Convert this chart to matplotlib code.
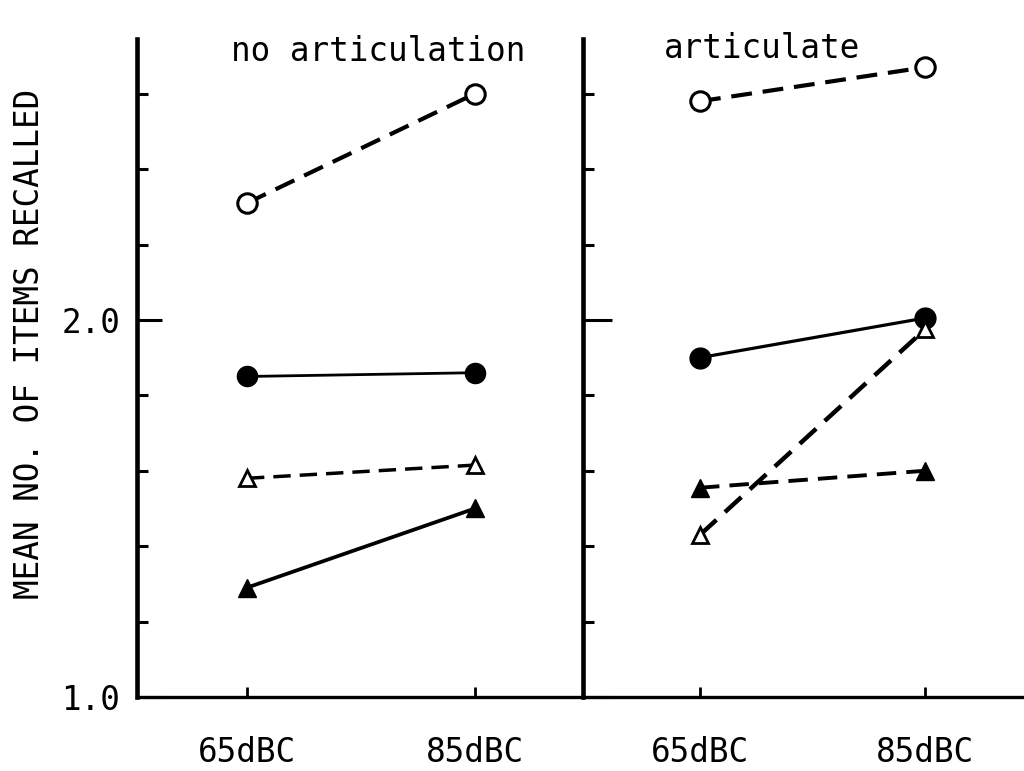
import matplotlib.pyplot as plt

plt.rcParams['font.family'] = ['DejaVu Sans Mono']

levels = ['65dBC', '85dBC']
panel_titles = ['no articulation', 'articulate']

# mean number of items recalled, one pair (65dBC, 85dBC) per condition
no_art_open_circle = [2.31, 2.60]
no_art_filled_circle = [1.85, 1.86]
no_art_open_triangle = [1.58, 1.615]
no_art_filled_triangle = [1.29, 1.50]

art_open_circle = [2.58, 2.67]
art_filled_circle = [1.90, 2.005]
art_open_triangle = [1.43, 1.975]
art_filled_triangle = [1.555, 1.60]

y_major = [1.0, 2.0]
y_minor = [1.2, 1.4, 1.6, 1.8, 2.2, 2.4, 2.6]

DASH = (0, (5, 2.6))

fig = plt.figure(figsize=(10.24, 7.71), dpi=100)
bottom = 74 / 771
height = 658 / 771
ax1 = fig.add_axes([137 / 1024, bottom, 446 / 1024, height])
ax2 = fig.add_axes([583 / 1024, bottom, 441 / 1024, height])

x = [0, 1]


def style_panel(ax, xlim, major_len):
    ax.set_xlim(*xlim)
    ax.set_ylim(1.0, 2.745)
    for side in ['top', 'right']:
        ax.spines[side].set_visible(False)
    ax.spines['left'].set_linewidth(3.3)
    ax.spines['bottom'].set_linewidth(2.4)
    ax.set_xticks(x)
    ax.set_xticklabels(levels, fontsize=23.5)
    ax.tick_params(axis='x', direction='in', length=7, width=2, pad=28)
    ax.set_yticks(y_major)
    ax.set_yticks(y_minor, minor=True)
    ax.tick_params(axis='y', which='major', direction='in', length=major_len, width=2.2, pad=12,
                   labelsize=23.5)
    ax.tick_params(axis='y', which='minor', direction='in', length=8, width=2.2)


# left panel
style_panel(ax1, (-0.4825, 1.4737), 18)
ax1.set_yticklabels(['1.0', '2.0'])
ax1.set_ylabel('MEAN NO. OF ITEMS RECALLED', fontsize=23.5)
ax1.yaxis.set_label_coords(-0.205, 0.536)

ax1.plot(x, no_art_open_circle, color='black', lw=3.0, ls=DASH, marker='o', ms=14,
         mfc='white', mec='black', mew=2.2)
ax1.plot(x, no_art_filled_circle, color='black', lw=2.0, marker='o', ms=14.5)
ax1.plot(x, no_art_open_triangle, color='black', lw=2.5, ls=DASH, marker='^', ms=12,
         mfc='white', mec='black', mew=2.0)
ax1.plot(x, no_art_filled_triangle, color='black', lw=2.7, marker='^', ms=13)
ax1.text(0.575, 2.711, panel_titles[0], fontsize=23.5, ha='center', va='center')

# right panel
style_panel(ax2, (-0.52, 1.44), 21)
ax2.set_yticklabels(['', ''])

ax2.plot(x, art_open_circle, color='black', lw=3.0, ls=DASH, marker='o', ms=14,
         mfc='white', mec='black', mew=2.2)
ax2.plot(x, art_filled_circle, color='black', lw=2.3, marker='o', ms=15)
ax2.plot(x, art_open_triangle, color='black', lw=3.2, ls=DASH, marker='^', ms=12,
         mfc='white', mec='black', mew=2.0)
ax2.plot(x, art_filled_triangle, color='black', lw=2.8, ls=DASH, marker='^', ms=13)
ax2.text(0.276, 2.72, panel_titles[1], fontsize=23.5, ha='center', va='center')

fig.savefig('out.png', dpi=100)
